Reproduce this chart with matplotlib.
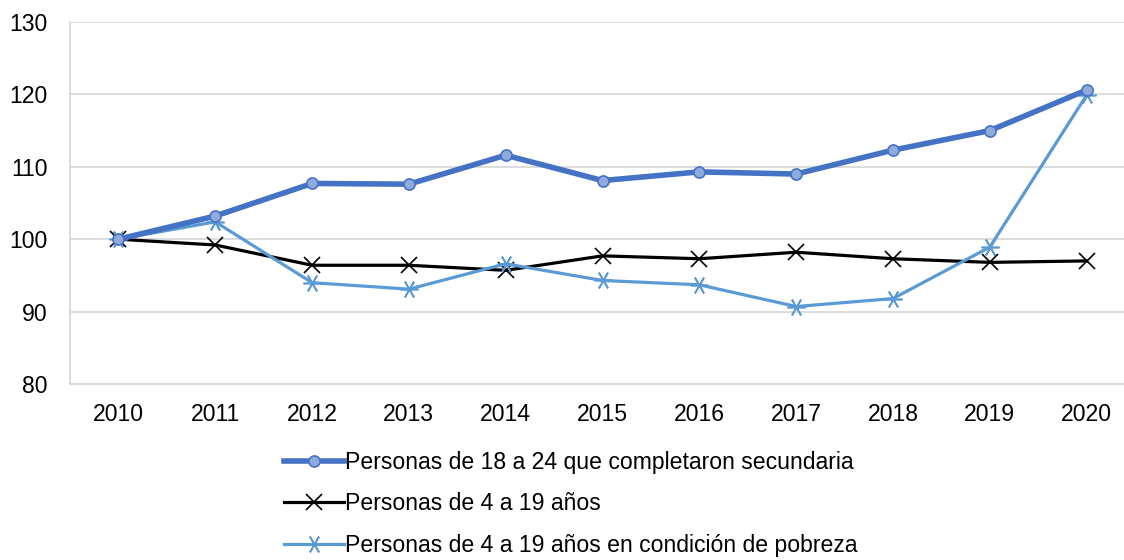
import matplotlib.pyplot as plt
import numpy as np

plt.rcParams['font.family'] = ['Liberation Sans', 'DejaVu Sans']

years = ['2010', '2011', '2012', '2013', '2014', '2015', '2016', '2017', '2018', '2019', '2020']
secundaria = [100, 103.2, 107.7, 107.6, 111.6, 108.1, 109.3, 109.0, 112.3, 115.0, 120.6]
pob_4_19 = [100, 99.2, 96.4, 96.4, 95.7, 97.7, 97.3, 98.2, 97.3, 96.8, 97.0]
pobreza_4_19 = [100, 102.4, 94.0, 93.1, 96.6, 94.3, 93.7, 90.7, 91.8, 98.9, 119.9]

labels = ['Personas de 18 a 24 que completaron secundaria',
          'Personas de 4 a 19 años',
          'Personas de 4 a 19 años en condición de pobreza']

W, H = 1124, 560
fs = 16.6
fig = plt.figure(figsize=(W / 100, H / 100), dpi=100)
# plot area: left 70px, top 22px, bottom 384px; right side runs past the figure edge
ax = fig.add_axes([70 / W, 1 - 384 / H, (1135 - 70) / W, (384 - 22) / H])

x = np.arange(len(years))
ax.plot(x, secundaria, color='#4472C4', lw=4, marker='o', ms=8,
        mfc='#8FAADC', mec='#4472C4', mew=1.2, label=labels[0], zorder=4)
ax.plot(x, pob_4_19, color='black', lw=2.3, marker='x', ms=11, mew=1.2,
        label=labels[1], zorder=3)
ax.plot(x, pobreza_4_19, color='#5B9BD5', lw=2.3, marker=(6, 2, 90), ms=13,
        mew=1.2, mec='#5B9BD5', label=labels[2], zorder=3)

ax.set_xlim(-0.5, 10.5)
ax.set_ylim(80, 130)
ax.set_yticks(np.arange(80, 131, 10))
ax.set_xticks(x)
ax.set_xticklabels(years)
ax.tick_params(length=0, labelsize=fs, colors='black')
ax.tick_params(axis='x', pad=13.5)
ax.tick_params(axis='y', pad=16)
ax.grid(axis='y', color='#D9D9D9', lw=1.3)
ax.set_axisbelow(True)
for s in ['top', 'right']:
    ax.spines[s].set_visible(False)
for s in ['left', 'bottom']:
    ax.spines[s].set_color('#D9D9D9')
    ax.spines[s].set_linewidth(1.3)

fig.legend(loc='upper left', bbox_to_anchor=(284 / W, 1 - 451 / H), frameon=False,
           fontsize=fs, handlelength=2.6, handletextpad=0.05, labelspacing=0.8,
           borderaxespad=0, borderpad=0)

fig.savefig('out.png', dpi=100)
